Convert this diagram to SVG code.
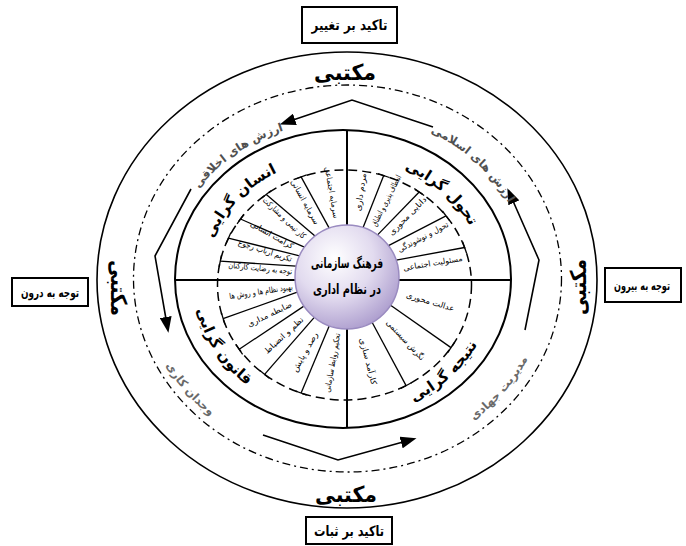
<svg xmlns="http://www.w3.org/2000/svg" width="686" height="546" viewBox="0 0 686 546">
<defs>
<radialGradient id="cg" cx="38%" cy="32%" r="75%">
<stop offset="0" stop-color="#ffffff"/>
<stop offset="0.5" stop-color="#e2dbef"/>
<stop offset="1" stop-color="#a898cb"/>
</radialGradient>
<marker id="ah" markerUnits="userSpaceOnUse" markerWidth="16" markerHeight="12" refX="2" refY="6" orient="auto">
<path d="M0,0 L16,6 L0,12 z" fill="#000"/>
</marker>
<path id="pUL" d="M 204.5 272 A 141 126 0 0 1 310 160.7"/>
<path id="pUR" d="M 368.5 158.9 A 141 126 0 0 1 482.9 261.1"/>
<path id="pLL" d="M 194.6 271.3 A 150 134 0 0 0 280.6 404.4"/>
<path id="pLR" d="M 370 415 A 150 134 0 0 0 492.5 301.6"/>
<path id="rUL" d="M 173 237.9 A 177 158 0 0 1 338.8 121.1"/>
<path id="rUR" d="M 373.7 115.4 A 183 164 0 0 1 527.2 258.9"/>
<path id="rLL" d="M 142.8 295.3 A 203 183 0 0 0 275.6 450.9"/>
<path id="rLR" d="M 414.4 450.9 A 203 183 0 0 0 547.2 295.3"/>
</defs>
<style>
text{font-family:"DejaVu Sans",sans-serif;fill:#000;text-anchor:middle}
.box{fill:#fff;stroke:#000;stroke-width:2}
.bt{font-size:14px;font-weight:700}
.bt2{font-size:12px;font-weight:700}
.mk{font-size:22px;font-weight:700}
.hd{font-size:15px;font-weight:700}
.rg{font-size:11.5px;font-weight:700;fill:#505050}
.rg2{font-size:11.5px;font-weight:700;fill:#6a6a6a}
.sg{font-size:8px}
.ct{font-size:14px;font-weight:700}
.ln{fill:none;stroke:#000}
.arr{fill:none;stroke:#000;stroke-width:1.6;marker-end:url(#ah)}
</style>
<rect width="686" height="546" fill="#fff"/>

<g id="rings">
<ellipse cx="347" cy="280" rx="250" ry="228" class="ln" stroke-width="1.6"/>
<ellipse cx="347.5" cy="278.5" rx="214" ry="193.5" class="ln" stroke-width="1.3" stroke-dasharray="8 4 2 4"/>
<ellipse cx="343" cy="279" rx="168" ry="149" class="ln" stroke-width="2"/>
<ellipse cx="344.5" cy="285" rx="127" ry="115" class="ln" stroke-width="1.5" stroke-dasharray="9 5"/>
</g>

<g id="connectors">
<g class="ln" stroke-width="2">
<line x1="347" y1="130" x2="347" y2="428"/>
<line x1="175" y1="280" x2="511" y2="280"/>
</g>
<g class="ln" stroke-width="1.3">
<line x1="329.2" y1="228.1" x2="301.1" y2="176.9"/><line x1="295.5" y1="179" x2="306.7" y2="174.8"/>
<line x1="315" y1="236" x2="266.3" y2="194.4"/><line x1="261.6" y1="198.1" x2="271" y2="190.7"/>
<line x1="304.4" y1="247.2" x2="240.5" y2="219"/><line x1="237.1" y1="223.9" x2="243.9" y2="214.1"/>
<line x1="299.5" y1="255.8" x2="228.4" y2="238.2"/><line x1="226" y1="243.7" x2="230.8" y2="232.7"/>
<line x1="296.1" y1="266.2" x2="220.3" y2="261.1"/><line x1="219.1" y1="267" x2="221.5" y2="255.2"/>
<line x1="363.1" y1="227.5" x2="383.7" y2="175.6"/><line x1="378" y1="173.7" x2="389.4" y2="177.5"/>
<line x1="377.6" y1="234.9" x2="419.2" y2="192"/><line x1="414.3" y1="188.5" x2="424.1" y2="195.5"/>
<line x1="388.5" y1="245.7" x2="446" y2="215.8"/><line x1="442.4" y1="211" x2="449.6" y2="220.6"/>
<line x1="396.2" y1="260.1" x2="464.6" y2="247.5"/><line x1="462.6" y1="241.8" x2="466.6" y2="253.2"/>
<line x1="390.6" y1="305.3" x2="451" y2="347.6"/><line x1="454.3" y1="342.6" x2="447.7" y2="352.6"/>
<line x1="372.2" y1="322.5" x2="406.1" y2="385.6"/><line x1="411.4" y1="382.7" x2="400.9" y2="388.5"/>
<line x1="297.3" y1="292.2" x2="223.1" y2="318.6"/><line x1="224.9" y1="324.3" x2="221.4" y2="312.9"/>
<line x1="303.9" y1="306.1" x2="239.2" y2="349.3"/><line x1="242.6" y1="354.3" x2="235.8" y2="344.3"/>
<line x1="314.3" y1="317.4" x2="264.6" y2="374.4"/><line x1="269.3" y1="378.2" x2="259.9" y2="370.6"/>
<line x1="329.2" y1="325.9" x2="301.1" y2="393.1"/><line x1="306.7" y1="395.2" x2="295.5" y2="391"/>
</g>
<polyline class="arr" points="433,127 352,100 293,120"/>
<polyline class="arr" points="191,189 155,256 166,319"/>
<polyline class="arr" points="263,435 338,460 403,442"/>
<polyline class="arr" points="525,330 539,260 513,201"/>
</g>

<g id="box-top"><rect class="box" x="302" y="7" width="95" height="36"/><text class="bt" x="349.5" y="30" textLength="76" lengthAdjust="spacingAndGlyphs">تاکید بر تغییر</text></g>
<g id="box-bottom"><rect class="box" x="306" y="517" width="86" height="27"/><text class="bt" x="349" y="535.5" textLength="70" lengthAdjust="spacingAndGlyphs">تاکید بر ثبات</text></g>
<g id="box-left"><rect class="box" x="12" y="278" width="76" height="28"/><text class="bt2" x="50" y="296.5" textLength="58" lengthAdjust="spacingAndGlyphs">توجه به درون</text></g>
<g id="box-right"><rect class="box" x="605" y="268" width="76" height="34"/><text class="bt2" x="642" y="289.5" textLength="56" lengthAdjust="spacingAndGlyphs">توجه به بیرون</text></g>

<g id="maktabi">
<text class="mk" x="345" y="80" textLength="62" lengthAdjust="spacingAndGlyphs">مکتبی</text>
<text class="mk" x="346" y="502" textLength="62" lengthAdjust="spacingAndGlyphs">مکتبی</text>
<text class="mk" transform="translate(119,288) rotate(90)" x="0" y="8" textLength="56" lengthAdjust="spacingAndGlyphs">مکتبی</text>
<text class="mk" transform="translate(578,287) rotate(-90)" x="0" y="8" textLength="56" lengthAdjust="spacingAndGlyphs">مکتبی</text>
</g>

<g id="ring-values">
<text class="rg"><textPath href="#rUL" startOffset="50%">ارزش های اخلاقی</textPath></text>
<text class="rg"><textPath href="#rUR" startOffset="50%">ارزش های اسلامی</textPath></text>
<text class="rg2"><textPath href="#rLL" startOffset="50%">وجدان کاری</textPath></text>
<text class="rg2"><textPath href="#rLR" startOffset="50%">مدیریت جهادی</textPath></text>
</g>

<g id="q-ensan">
<text class="hd"><textPath href="#pUL" startOffset="50%">انسان گرایی</textPath></text>
<text class="sg" transform="translate(332.1,192.3) rotate(80)" y="3" textLength="52" lengthAdjust="spacingAndGlyphs">سرمایه اجتماعی</text>
<text class="sg" transform="translate(305.3,201.8) rotate(61)" y="3" textLength="50" lengthAdjust="spacingAndGlyphs">سرمایه انسانی</text>
<text class="sg" transform="translate(284.6,217.8) rotate(43.5)" y="3" textLength="56" lengthAdjust="spacingAndGlyphs">کار تیمی و مشارکت</text>
<text class="sg" transform="translate(272.2,234.7) rotate(29.5)" y="3" textLength="48" lengthAdjust="spacingAndGlyphs">کرامت انسانی</text>
<text class="sg" transform="translate(265.2,250.4) rotate(18)" y="3" textLength="56" lengthAdjust="spacingAndGlyphs">تکریم ارباب رجوع</text>
<text class="sg" transform="translate(260.4,268) rotate(6)" y="3" textLength="64" lengthAdjust="spacingAndGlyphs">توجه به رضایت کارکنان</text>
</g>

<g id="q-tahavol">
<text class="hd"><textPath href="#pUR" startOffset="50%">تحول گرایی</textPath></text>
<text class="sg" transform="translate(360.4,192) rotate(-81)" y="3" textLength="38" lengthAdjust="spacingAndGlyphs">مردم داری</text>
<text class="sg" transform="translate(386,200.4) rotate(-63)" y="3" textLength="56" lengthAdjust="spacingAndGlyphs">انعطاف پذیری و انطباق</text>
<text class="sg" transform="translate(407.3,215.7) rotate(-45.5)" y="3" textLength="50" lengthAdjust="spacingAndGlyphs">دانایی محوری</text>
<text class="sg" transform="translate(422.9,236.7) rotate(-28)" y="3" textLength="56" lengthAdjust="spacingAndGlyphs">تحول و نوشوندگی</text>
<text class="sg" transform="translate(432.8,262.8) rotate(-9.5)" y="3" textLength="60" lengthAdjust="spacingAndGlyphs">مسئولیت اجتماعی</text>
</g>

<g id="q-natije">
<text class="hd"><textPath href="#pLR" startOffset="50%">نتیجه گرایی</textPath></text>
<text class="sg" transform="translate(430.5,301.4) rotate(16.5)" y="3" textLength="50" lengthAdjust="spacingAndGlyphs">عدالت محوری</text>
<text class="sg" transform="translate(405.7,339.9) rotate(47)" y="3" textLength="52" lengthAdjust="spacingAndGlyphs">نگرش سیستمی</text>
<text class="sg" transform="translate(368.5,361.3) rotate(75.5)" y="3" textLength="48" lengthAdjust="spacingAndGlyphs">کارآمد سازی</text>
</g>

<g id="q-ghanoon">
<text class="hd"><textPath href="#pLL" startOffset="50%">قانون گرایی</textPath></text>
<text class="sg" transform="translate(260.9,291.2) rotate(-8.5)" y="3" textLength="64" lengthAdjust="spacingAndGlyphs">بهبود نظام ها و روش ها</text>
<text class="sg" transform="translate(269.4,314) rotate(-25.5)" y="3" textLength="48" lengthAdjust="spacingAndGlyphs">ضابطه مداری</text>
<text class="sg" transform="translate(283.6,335.1) rotate(-42.5)" y="3" textLength="50" lengthAdjust="spacingAndGlyphs">نظم و انضباط</text>
<text class="sg" transform="translate(304.7,351.8) rotate(-60.5)" y="3" textLength="44" lengthAdjust="spacingAndGlyphs">رصد و پایش</text>
<text class="sg" transform="translate(332.1,362.7) rotate(-80)" y="3" textLength="60" lengthAdjust="spacingAndGlyphs">تحکیم روابط سازمانی</text>
</g>

<g id="center">
<circle cx="347" cy="277" r="52" fill="url(#cg)" stroke="#9a8bc0" stroke-width="1.5"/>
<text class="ct" x="347" y="268" textLength="72" lengthAdjust="spacingAndGlyphs">فرهنگ سازمانی</text>
<text class="ct" x="347" y="294" textLength="68" lengthAdjust="spacingAndGlyphs">در نظام اداری</text>
</g>
</svg>
